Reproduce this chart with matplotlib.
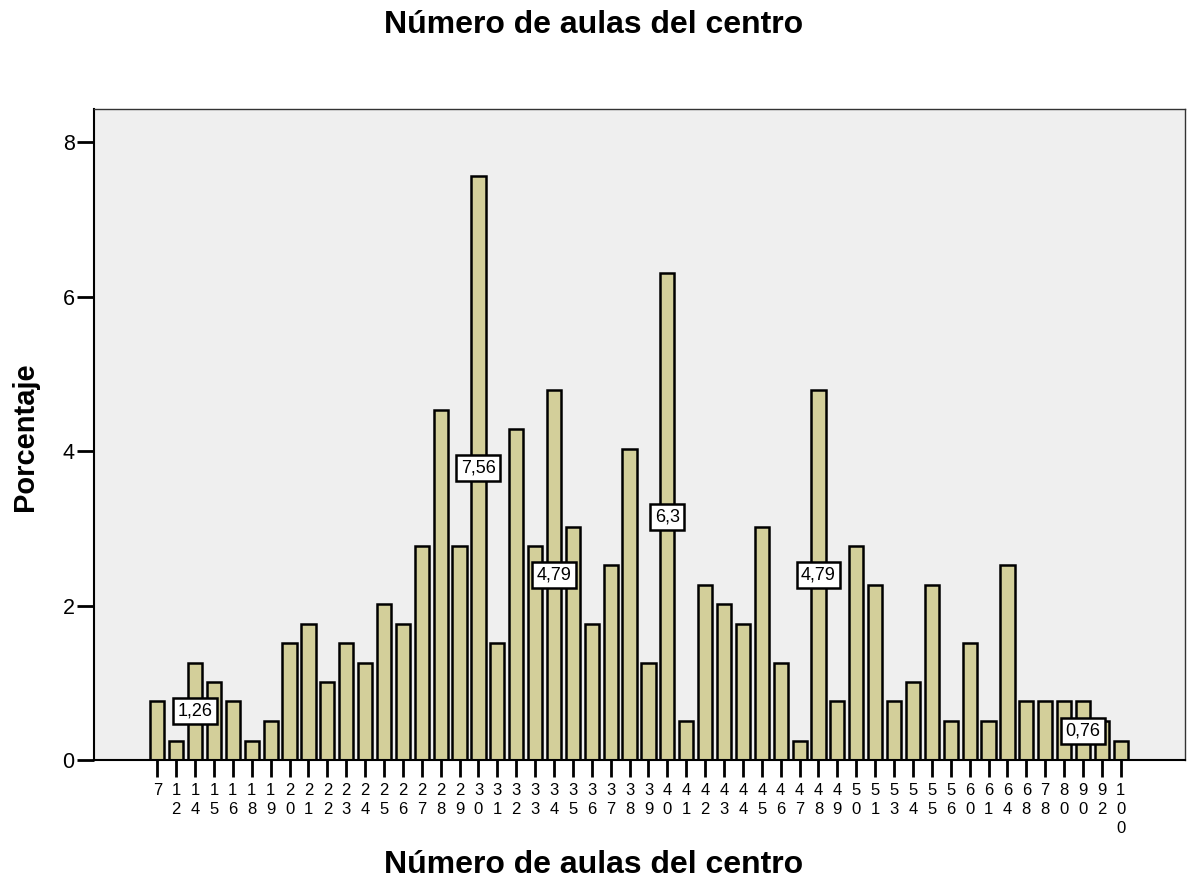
import matplotlib.pyplot as plt

plt.rcParams['font.family'] = ['Liberation Sans', 'DejaVu Sans']

# Número de aulas (categorías) y porcentaje de centros
aulas = [7, 12, 14, 15, 16, 18, 19, 20, 21, 22, 23, 24, 25, 26, 27, 28, 29, 30,
         31, 32, 33, 34, 35, 36, 37, 38, 39, 40, 41, 42, 43, 44, 45, 46, 47, 48,
         49, 50, 51, 53, 54, 55, 56, 60, 61, 64, 68, 78, 80, 90, 92, 100]
porcentaje = [0.76, 0.25, 1.26, 1.01, 0.76, 0.25, 0.50, 1.51, 1.76, 1.01, 1.51, 1.26,
              2.02, 1.76, 2.77, 4.53, 2.77, 7.56, 1.51, 4.28, 2.77, 4.79, 3.02, 1.76,
              2.52, 4.03, 1.26, 6.30, 0.50, 2.27, 2.02, 1.76, 3.02, 1.26, 0.25, 4.79,
              0.76, 2.77, 2.27, 0.76, 1.01, 2.27, 0.50, 1.51, 0.50, 2.52, 0.76, 0.76,
              0.76, 0.76, 0.50, 0.25]
# barras con etiqueta de valor
etiquetadas = [14, 30, 34, 40, 48, 90]

fig = plt.figure(figsize=(11.87, 8.81), dpi=100)
ax = fig.add_axes([94 / 1187, 1 - 760 / 881, (1185 - 94) / 1187, (760 - 109) / 881])
ax.set_facecolor('#efefef')

x = list(range(len(aulas)))
ax.bar(x, porcentaje, width=0.75, color='#d3cf9a', edgecolor='black', linewidth=1.8, zorder=2)

for i, a in enumerate(aulas):
    if a in etiquetadas:
        v = porcentaje[i]
        txt = ('%g' % v).replace('.', ',')
        ax.text(i, v / 2, txt, ha='center', va='center', fontsize=13, zorder=3,
                bbox=dict(boxstyle='square,pad=0.25', fc='white', ec='black', lw=1.8))

ax.set_xlim(-3.35, 54.4)
ax.set_ylim(0, 8.43)
ax.set_xticks(x)
ax.set_xticklabels(['\n'.join(str(a)) for a in aulas], fontsize=12, linespacing=1.32)
ax.set_yticks([0, 2, 4, 6, 8])
ax.tick_params(axis='y', length=12, width=2, labelsize=15.5, pad=2)
ax.tick_params(axis='x', length=12.5, width=2, pad=4)

for s in ['top', 'right']:
    ax.spines[s].set_color('#333333')
    ax.spines[s].set_linewidth(1)
for s in ['left', 'bottom']:
    ax.spines[s].set_color('black')
    ax.spines[s].set_linewidth(1.5)

fig.text(0.5, 1 - 25 / 881, 'Número de aulas del centro', ha='center', va='center',
         fontsize=23, fontweight='bold')
fig.text(0.5, 1 - 865 / 881, 'Número de aulas del centro', ha='center', va='center',
         fontsize=23, fontweight='bold')
fig.text(25 / 1187, 1 - 437 / 881, 'Porcentaje', ha='center', va='center',
         rotation=90, fontsize=21, fontweight='bold')

fig.savefig('out.png', dpi=100)
